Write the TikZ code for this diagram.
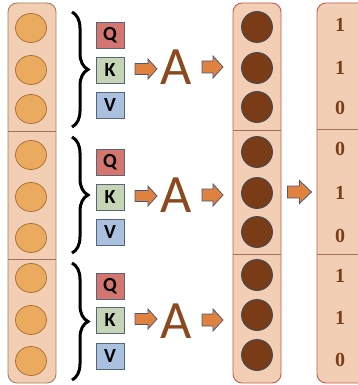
\documentclass[tikz,border=0pt]{standalone}
\usepackage{fontspec}
\setmainfont{Carlito}
\newfontfamily\numfont{Liberation Serif}
\usetikzlibrary{decorations.pathreplacing,shapes.geometric}
\definecolor{peach}{HTML}{F2CFB4}
\definecolor{colL}{HTML}{A87C5C}
\definecolor{colR}{HTML}{C55B4B}
\definecolor{sepc}{HTML}{A0705A}
\definecolor{orangec}{HTML}{EBAB5F}
\definecolor{orangeb}{HTML}{A56A30}
\definecolor{darkc}{HTML}{7A3C17}
\definecolor{darkb}{HTML}{3C4A5E}
\definecolor{qred}{HTML}{D4766F}
\definecolor{kgreen}{HTML}{C5D5B6}
\definecolor{vblue}{HTML}{A9C0DE}
\definecolor{boxb}{HTML}{56657A}
\definecolor{arrf}{HTML}{E0823F}
\definecolor{arrb}{HTML}{4A5A78}
\definecolor{brownt}{HTML}{8A4A1E}
\definecolor{numc}{HTML}{7A3F17}
\tikzset{
  colbox/.style={fill=peach, line width=0.9pt, rounded corners=9pt},
  lcirc/.style={ellipse, draw=orangeb, fill=orangec, line width=0.7pt, minimum width=31pt, minimum height=29pt, inner sep=0pt},
  dcirc/.style={circle, draw=darkb, fill=darkc, line width=0.8pt, minimum size=31pt, inner sep=0pt},
  qkv/.style={draw=boxb, line width=0.9pt, minimum width=28pt, minimum height=26pt, inner sep=0pt, font=\bfseries\fontsize{20}{20}\selectfont},
  bigA/.style={inner sep=0pt, text=brownt, font=\fontsize{54}{54}\selectfont},
  num/.style={inner sep=0pt, text=numc, font=\numfont\bfseries\fontsize{20}{20}\selectfont},
  bracesty/.style={decorate, decoration={brace, amplitude=16pt}, line width=3pt},
  arrowsty/.style={draw=arrb, fill=arrf, line width=0.8pt, line join=miter},
}
\newcommand\blockarr[6]{%
  \draw[arrowsty] ({#1-#3/2},{#2-#4/2}) -- ({#1+#3/2-#6},{#2-#4/2}) -- ({#1+#3/2-#6},{#2-#5/2}) -- ({#1+#3/2},#2) -- ({#1+#3/2-#6},{#2+#5/2}) -- ({#1+#3/2-#6},{#2+#4/2}) -- ({#1-#3/2},{#2+#4/2}) -- cycle;}
\begin{document}
\begin{tikzpicture}[x=1pt,y=-1pt]
\useasboundingbox (0,0) rectangle (358,385);
% columns
\draw[colbox, draw=colL] (8,3) rectangle (56,383);
\draw[colbox, draw=colR] (233,3) rectangle (281,383);
\draw[colbox, draw=colR] (317,3) rectangle (372,383);
% separators
\draw[sepc, line width=0.9pt] (8,131) -- (56,131);
\draw[sepc, line width=0.9pt] (8,259) -- (56,259);
\draw[sepc, line width=0.9pt] (233,130) -- (281,130);
\draw[sepc, line width=0.9pt] (233,254) -- (281,254);
\draw[sepc, line width=0.9pt] (317,129) -- (358,129);
\draw[sepc, line width=0.9pt] (317,254) -- (358,254);
% left circles
\node[lcirc] (l1) at (31,28) {};
\node[lcirc] (l2) at (31,70) {};
\node[lcirc] (l3) at (31,109) {};
\node[lcirc] (l4) at (31,155) {};
\node[lcirc] (l5) at (31,197) {};
\node[lcirc] (l6) at (31,238) {};
\node[lcirc] (l7) at (31,278) {};
\node[lcirc] (l8) at (31,320) {};
\node[lcirc] (l9) at (31,361) {};
% middle circles
\node[dcirc] (m1) at (257,27) {};
\node[dcirc] (m2) at (257,68) {};
\node[dcirc] (m3) at (257,107) {};
\node[dcirc] (m4) at (257,152) {};
\node[dcirc] (m5) at (257,193) {};
\node[dcirc] (m6) at (257,232) {};
\node[dcirc] (m7) at (257,275) {};
\node[dcirc] (m8) at (257,315) {};
\node[dcirc] (m9) at (257,355) {};
% numbers
\node[num] (n1) at (340,25) {1};
\node[num] (n2) at (340,68) {1};
\node[num] (n3) at (340,108) {0};
\node[num] (n4) at (340,149) {0};
\node[num] (n5) at (340,193) {1};
\node[num] (n6) at (340,236) {0};
\node[num] (n7) at (340,276) {1};
\node[num] (n8) at (340,318) {1};
\node[num] (n9) at (340,360) {0};
% braces
\draw[bracesty] (72,12) -- (72,127);
\draw[bracesty] (72,137) -- (72,253);
\draw[bracesty] (72,263) -- (72,380);
% QKV boxes
\node[qkv, fill=qred] (q1) at (110,35.5) {Q};
\node[qkv, fill=kgreen] (k1) at (110,70) {K};
\node[qkv, fill=vblue] (v1) at (110,105.5) {V};
\node[qkv, fill=qred] (q2) at (110,162.5) {Q};
\node[qkv, fill=kgreen] (k2) at (110,197) {K};
\node[qkv, fill=vblue] (v2) at (110,232.5) {V};
\node[qkv, fill=qred] (q3) at (110,286) {Q};
\node[qkv, fill=kgreen] (k3) at (110,320.5) {K};
\node[qkv, fill=vblue] (v3) at (110,356) {V};
% A
\node[bigA] (a1) at (176,67) {A};
\node[bigA] (a2) at (176,195) {A};
\node[bigA] (a3) at (176,321) {A};
% block arrows
\blockarr{146}{69}{22}{11}{20}{9}
\blockarr{146}{196}{22}{11}{20}{9}
\blockarr{146}{319}{22}{11}{20}{9}
\blockarr{212.5}{67}{21}{12}{22}{10}
\blockarr{212.5}{195}{21}{12}{22}{10}
\blockarr{212.5}{320}{21}{12}{22}{10}
\blockarr{299.5}{192}{24}{12}{23}{12}
\end{tikzpicture}
\end{document}
